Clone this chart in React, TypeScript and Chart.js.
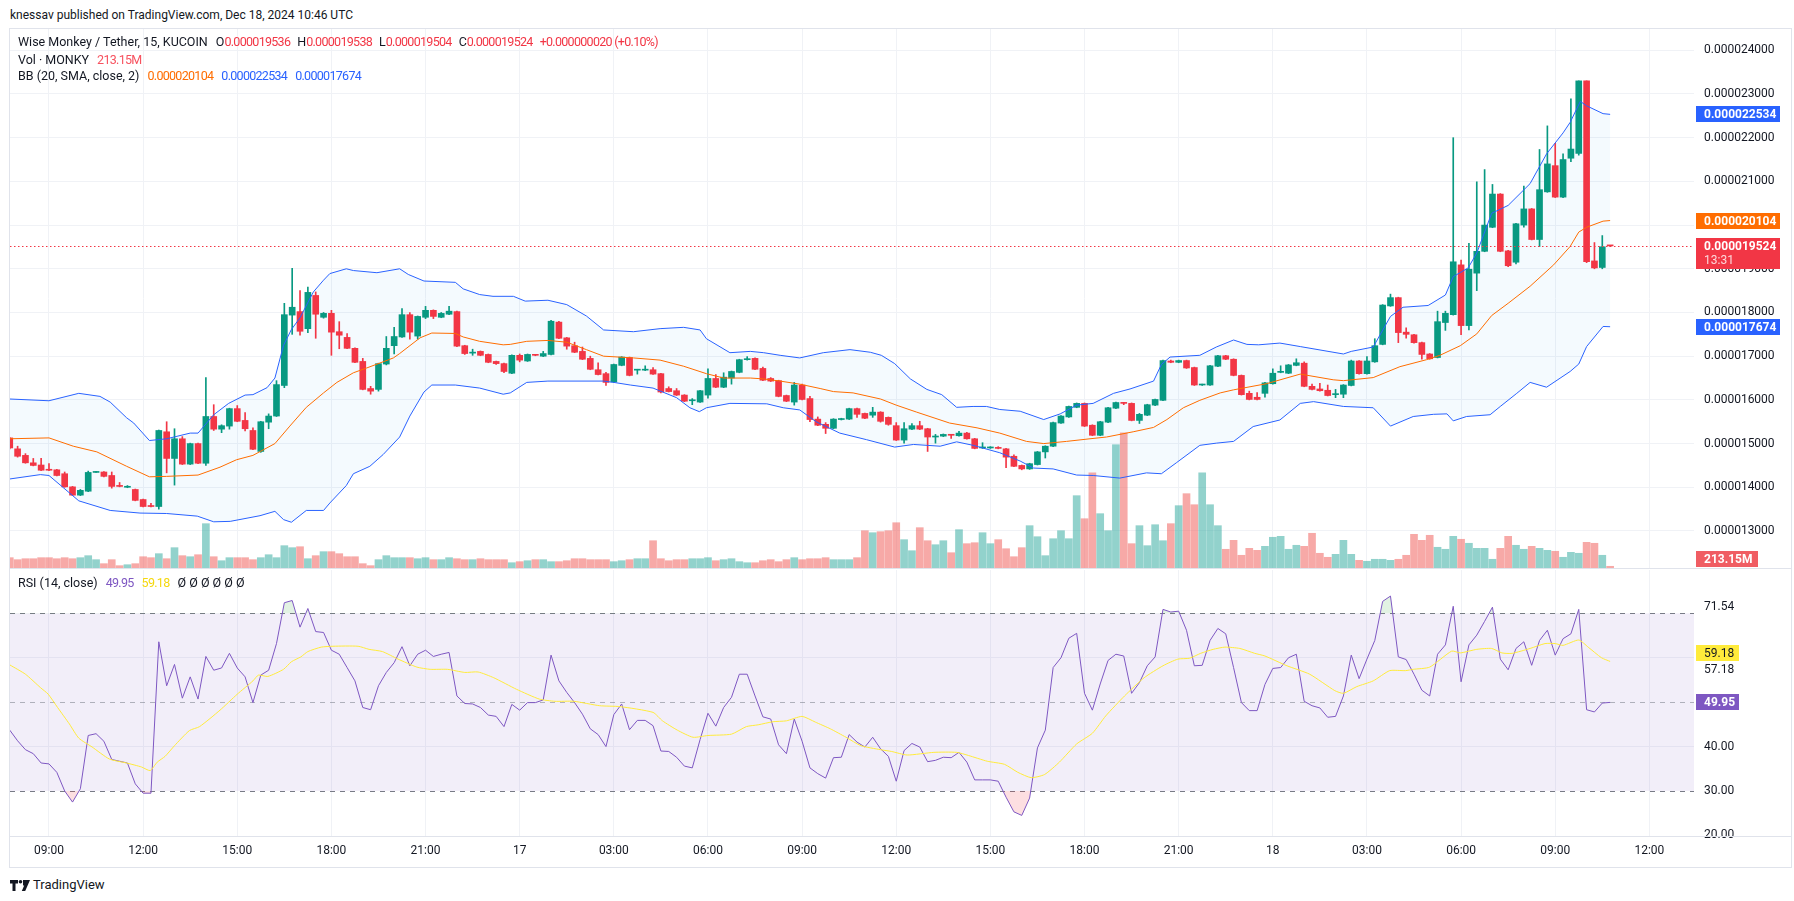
import React, { useEffect, useRef } from "react";
import { Chart, registerables } from "chart.js";

Chart.register(...registerables);

// ---------- DATA (prices in 1e-6 USDT, volume in millions) ----------
// index 0 of every per-candle array = candle at 07:45 UTC Dec 16 (x = FIRST_INDEX)
const FIRST_INDEX = -1;

const opens = [
  15.13, 14.88, 14.73, 14.56, 14.51, 14.40, 14.40, 14.31, 14.01, 13.82, 13.91,
  14.34, 14.35, 14.27, 14.04, 14.00, 13.95, 13.72, 13.57, 13.56, 15.27,
  14.66, 15.11, 14.53, 15.00, 14.55, 15.62, 15.33, 15.40, 15.80, 15.53,
  15.30, 14.82, 15.49, 15.63, 16.33, 17.94, 18.02, 17.63, 18.39, 17.89,
  17.98, 17.56, 17.43, 17.18, 16.88, 16.26, 16.24, 16.82, 17.24, 17.44,
  17.95, 17.46, 17.89, 18.05, 17.89, 17.96, 18.02, 17.24, 17.07, 17.11,
  17.04, 16.88, 16.83, 16.61, 17.02, 16.89, 17.03, 17.00, 17.04, 17.78,
  17.42, 17.24, 17.11, 16.95, 16.69, 16.60, 16.41, 16.79, 16.97, 16.68,
  16.68, 16.69, 16.60, 16.26, 16.21, 16.11, 15.98, 15.95, 16.11, 16.49,
  16.29, 16.50, 16.63, 16.92, 16.95, 16.72, 16.49, 16.44, 16.10, 15.95,
  16.34, 16.03, 15.56, 15.44, 15.35, 15.55, 15.56, 15.80, 15.69, 15.65,
  15.72, 15.60, 15.41, 15.08, 15.33, 15.41, 15.34, 15.15, 15.17, 15.20,
  15.18, 15.24, 15.11, 14.90, 14.90, 14.91, 14.88, 14.71, 14.50, 14.42,
  14.52, 14.81, 14.94, 15.47, 15.61, 15.83, 15.92, 15.42, 15.19, 15.49,
  15.81, 15.93, 15.92, 15.53, 15.65, 15.88, 15.99, 16.89, 16.86, 16.90,
  16.74, 16.34, 16.34, 16.77, 17.01, 16.93, 16.56, 16.15, 16.06, 16.15,
  16.37, 16.63, 16.61, 16.79, 16.84, 16.31, 16.25, 16.22, 16.12, 16.13,
  16.33, 16.89, 16.60, 16.87, 17.27, 18.15, 18.34, 17.55, 17.49, 17.31,
  17.05, 16.97, 17.77, 17.95, 19.09, 17.70, 18.90, 19.40, 19.95, 20.71,
  19.41, 19.15, 20.00, 20.37, 19.67, 20.76, 21.36, 20.64, 21.53, 21.64,
  23.30, 19.18, 19.03, 19.536,
];

const highs = [
  15.14, 14.94, 14.77, 14.66, 14.66, 14.54, 14.41, 14.35, 14.02, 13.95, 14.37,
  14.36, 14.36, 14.35, 14.11, 14.04, 13.96, 13.73, 13.63, 15.31, 15.50,
  15.34, 15.16, 15.01, 15.01, 16.51, 15.89, 15.43, 15.81, 15.87, 15.71,
  15.36, 15.51, 15.68, 16.44, 18.21, 19.01, 18.50, 18.58, 18.47, 18.00,
  18.05, 17.79, 17.52, 17.19, 16.95, 16.31, 16.84, 17.45, 17.66, 18.09,
  18.00, 17.92, 18.14, 18.06, 18.00, 18.14, 18.03, 17.25, 17.16, 17.12,
  17.05, 16.89, 16.84, 17.03, 17.05, 17.05, 17.04, 17.11, 17.82, 17.80,
  17.43, 17.32, 17.21, 17.00, 16.85, 16.63, 16.82, 16.99, 16.98, 16.70,
  16.78, 16.74, 16.61, 16.30, 16.26, 16.12, 16.03, 16.22, 16.71, 16.58,
  16.62, 16.66, 16.93, 16.99, 16.96, 16.75, 16.51, 16.45, 16.11, 16.40,
  16.36, 16.08, 15.61, 15.48, 15.57, 15.58, 15.81, 15.81, 15.70, 15.83,
  15.73, 15.61, 15.48, 15.48, 15.46, 15.51, 15.35, 15.21, 15.22, 15.21,
  15.28, 15.26, 15.12, 15.02, 14.93, 14.93, 14.89, 14.74, 14.51, 14.55,
  14.82, 14.95, 15.49, 15.64, 15.86, 15.93, 15.93, 15.43, 15.51, 15.83,
  15.95, 15.94, 15.93, 15.69, 15.90, 16.02, 16.91, 16.91, 16.91, 16.91,
  16.75, 16.36, 16.79, 17.02, 17.02, 16.94, 16.57, 16.20, 16.17, 16.40,
  16.71, 16.78, 16.81, 16.94, 16.87, 16.36, 16.38, 16.34, 16.24, 16.35,
  16.91, 16.90, 16.99, 17.40, 18.18, 18.42, 18.35, 17.65, 17.50, 17.32,
  17.06, 18.03, 18.03, 22.00, 19.20, 19.58, 20.99, 21.27, 20.93, 20.72,
  19.42, 20.04, 20.89, 20.38, 21.73, 22.27, 21.87, 21.63, 22.89, 23.30,
  23.30, 19.60, 19.76, 19.538,
];

const lows = [
  14.88, 14.69, 14.55, 14.49, 14.38, 14.38, 14.26, 14.00, 13.81, 13.81, 13.90,
  14.34, 14.24, 13.98, 14.01, 13.99, 13.69, 13.55, 13.55, 13.50, 14.33,
  14.05, 14.52, 14.52, 14.54, 14.50, 15.30, 15.25, 15.33, 15.50, 15.29,
  14.86, 14.80, 15.34, 15.62, 16.28, 17.50, 17.48, 17.54, 17.41, 17.87,
  17.02, 17.17, 17.17, 16.85, 16.23, 16.13, 16.20, 16.80, 17.05, 17.43,
  17.39, 17.39, 17.86, 17.86, 17.88, 17.95, 17.22, 17.04, 17.02, 17.01,
  16.85, 16.81, 16.62, 16.60, 16.87, 16.88, 17.01, 16.99, 17.03, 17.40,
  17.16, 17.08, 16.92, 16.69, 16.57, 16.33, 16.40, 16.78, 16.55, 16.59,
  16.67, 16.58, 16.16, 16.18, 16.10, 15.96, 15.89, 15.94, 16.04, 16.28,
  16.28, 16.36, 16.62, 16.91, 16.69, 16.44, 16.42, 16.07, 15.96, 15.88,
  16.00, 15.50, 15.41, 15.23, 15.34, 15.54, 15.55, 15.60, 15.57, 15.60,
  15.49, 15.42, 15.07, 15.01, 15.32, 15.32, 14.82, 15.01, 15.16, 15.12,
  15.17, 15.10, 14.88, 14.89, 14.89, 14.88, 14.45, 14.47, 14.40, 14.41,
  14.51, 14.67, 14.93, 15.46, 15.60, 15.82, 15.39, 15.18, 15.18, 15.48,
  15.80, 15.89, 15.52, 15.46, 15.64, 15.87, 15.98, 16.85, 16.85, 16.72,
  16.33, 16.33, 16.33, 16.76, 16.92, 16.55, 16.11, 16.00, 16.00, 16.06,
  16.36, 16.62, 16.60, 16.78, 16.30, 16.23, 16.20, 16.09, 16.05, 16.05,
  16.32, 16.59, 16.59, 16.86, 17.26, 18.14, 17.31, 17.41, 17.30, 16.93,
  16.93, 16.96, 17.59, 17.94, 17.49, 17.60, 18.50, 19.39, 19.94, 19.39,
  19.05, 19.11, 19.95, 19.66, 19.51, 20.75, 20.63, 20.63, 21.45, 21.60,
  19.14, 19.00, 19.00, 19.504,
];

const closes = [
  14.90, 14.71, 14.56, 14.50, 14.39, 14.39, 14.27, 14.01, 13.82, 13.93, 14.34,
  14.35, 14.25, 14.02, 14.02, 14.02, 13.70, 13.56, 13.56, 15.30, 14.66,
  15.11, 14.53, 15.00, 14.55, 15.62, 15.33, 15.41, 15.80, 15.51, 15.34,
  14.87, 15.50, 15.63, 16.35, 17.95, 18.12, 17.57, 18.46, 17.96, 17.98,
  17.55, 17.48, 17.18, 16.86, 16.24, 16.20, 16.83, 17.18, 17.45, 17.95,
  17.55, 17.91, 18.05, 17.91, 17.98, 18.03, 17.23, 17.06, 17.08, 17.02,
  16.86, 16.83, 16.65, 17.02, 16.91, 17.04, 17.02, 17.06, 17.80, 17.41,
  17.23, 17.09, 16.93, 16.70, 16.58, 16.40, 16.81, 16.98, 16.56, 16.69,
  16.69, 16.59, 16.18, 16.19, 16.11, 15.97, 15.99, 16.21, 16.49, 16.29,
  16.52, 16.65, 16.92, 16.93, 16.70, 16.45, 16.43, 16.08, 15.97, 16.34,
  16.01, 15.55, 15.42, 15.35, 15.56, 15.56, 15.80, 15.67, 15.58, 15.72,
  15.51, 15.44, 15.08, 15.34, 15.41, 15.33, 15.15, 15.16, 15.21, 15.19,
  15.24, 15.11, 14.89, 14.91, 14.91, 14.89, 14.69, 14.48, 14.42, 14.54,
  14.81, 14.94, 15.48, 15.63, 15.85, 15.92, 15.40, 15.19, 15.50, 15.82,
  15.94, 15.92, 15.53, 15.67, 15.89, 16.01, 16.90, 16.86, 16.90, 16.73,
  16.34, 16.35, 16.78, 17.01, 16.93, 16.56, 16.12, 16.01, 16.01, 16.39,
  16.61, 16.64, 16.80, 16.85, 16.31, 16.24, 16.21, 16.10, 16.13, 16.34,
  16.89, 16.60, 16.89, 17.24, 18.17, 18.34, 17.54, 17.50, 17.31, 17.04,
  16.94, 17.79, 17.98, 19.16, 17.70, 18.99, 19.40, 20.00, 20.71, 19.40,
  19.07, 20.03, 20.37, 19.67, 20.81, 21.40, 20.64, 21.50, 21.74, 23.30,
  19.16, 19.02, 19.504, 19.524,
];

const volumes = [
  1290, 1040, 1160, 1160, 1290, 1290, 1160, 1290, 1160, 1290, 1540,
  1040, 540, 1040, 290, 410, 540, 1410, 1290, 1790, 1160,
  2540, 1540, 1410, 1660, 5540, 1410, 910, 1290, 1290, 1290,
  1040, 1290, 1660, 1290, 2790, 2540, 2660, 1160, 1540, 2040,
  2040, 1790, 1410, 1410, 540, 290, 1040, 1540, 1290, 1290,
  1290, 1160, 1290, 1040, 1040, 1290, 1160, 1040, 1040, 1160,
  1040, 1040, 1040, 660, 790, 910, 1040, 1040, 790, 790,
  910, 1160, 1160, 1040, 1040, 1040, 790, 910, 1040, 1160,
  1160, 3410, 1160, 910, 1040, 1040, 1160, 1160, 1290, 910,
  1040, 1160, 790, 660, 660, 910, 1040, 790, 1040, 1290,
  1040, 1160, 1160, 1290, 1040, 1040, 1040, 1290, 4660, 4410,
  4540, 4660, 5660, 3540, 2160, 5040, 3410, 2910, 3410, 1910,
  4790, 3040, 3160, 4410, 3040, 3540, 2410, 1410, 2540, 5290,
  3910, 1540, 3660, 4660, 3660, 9040, 6160, 11910, 6790, 4660,
  15410, 16910, 3040, 5290, 2790, 5410, 3410, 5540, 7790, 9290,
  7910, 11910, 7910, 5290, 2340, 3460, 1590, 2460, 2210, 2710,
  3840, 3960, 2340, 2840, 2710, 4340, 1840, 1340, 1710, 3460,
  1710, 960, 840, 1090, 1090, 960, 1090, 1590, 4210, 3460,
  4090, 2590, 2340, 3960, 3590, 3090, 2460, 2460, 1090, 2460,
  3960, 2840, 2340, 2710, 2460, 2210, 2090, 1340, 1960, 1840,
  3210, 3090, 1590, 213.15,
];

const rsi = [
  43.7, 41.3, 39.3, 38.4, 36.3, 36.1, 34.2, 30.0, 27.5, 30.5, 42.5,
  42.9, 41.2, 37.1, 36.7, 36.3, 31.6, 29.5, 29.5, 63.6, 53.7,
  58.5, 50.9, 55.7, 50.7, 60.3, 57.2, 57.7, 61.0, 57.7, 55.7,
  49.9, 56.1, 57.2, 63.2, 72.4, 72.9, 66.9, 71.1, 65.9, 65.7,
  61.7, 60.8, 57.8, 54.8, 48.8, 48.3, 53.7, 56.7, 58.9, 62.5,
  58.2, 60.8, 61.7, 60.3, 60.8, 61.2, 51.4, 49.7, 49.6, 48.8,
  47.1, 46.8, 44.5, 49.5, 48.2, 49.9, 49.9, 50.5, 60.6, 54.8,
  52.2, 49.9, 47.3, 44.0, 42.7, 40.0, 47.2, 49.6, 43.8, 45.9,
  45.9, 44.7, 39.0, 38.9, 37.6, 35.6, 35.2, 41.6, 47.5, 44.6,
  48.8, 51.1, 56.3, 56.3, 51.4, 46.7, 46.2, 40.4, 38.4, 46.2,
  41.2, 35.2, 33.9, 32.9, 37.5, 37.6, 42.7, 41.0, 39.9, 42.1,
  39.5, 37.8, 32.2, 39.1, 40.7, 39.9, 36.6, 36.9, 37.6, 37.5,
  38.7, 36.5, 32.5, 32.5, 32.5, 32.2, 28.6, 25.3, 24.5, 28.4,
  39.7, 43.7, 57.8, 60.0, 64.4, 65.5, 52.0, 48.2, 54.1, 59.4,
  60.8, 60.4, 52.0, 54.4, 58.2, 60.2, 70.9, 70.3, 70.5, 66.2,
  58.2, 58.3, 63.9, 66.6, 65.4, 57.8, 49.9, 48.1, 48.1, 54.0,
  57.6, 57.8, 60.0, 60.8, 50.2, 49.2, 48.7, 46.6, 46.8, 51.4,
  60.6, 55.3, 59.7, 63.9, 72.7, 73.9, 60.2, 59.6, 56.3, 52.7,
  51.4, 60.8, 62.9, 71.6, 54.6, 62.9, 65.1, 68.2, 71.4, 59.7,
  57.3, 62.1, 63.6, 58.3, 63.9, 66.2, 60.6, 64.3, 65.4, 70.9,
  48.3, 47.8, 49.8, 49.95,
];

// Bollinger Bands (20, SMA, close, 2) sampled as [candle index, value]
const bbUpper: [number, number][] = [
  [-1, 16.02], [4, 15.98], [7.8, 16.15], [10.5, 16.08], [11.8, 15.95], [13.9, 15.59], [14.8, 15.47],
  [16.8, 15.07], [19, 15.11], [22, 15.24], [23, 15.24], [25, 15.66], [26.9, 15.92], [29, 16.11],
  [30, 16.12], [31.8, 16.28], [32.8, 16.5], [33.9, 17.25], [34.9, 17.61], [36, 17.88], [37.7, 18.47],
  [39, 18.74], [39.8, 18.89], [41.9, 19.0], [42.8, 18.96], [45.8, 18.91], [48.7, 19.0], [49.8, 18.87],
  [51.8, 18.72], [55.8, 18.69], [56.8, 18.54], [58.9, 18.41], [60.6, 18.37], [63.2, 18.37], [64.7, 18.26],
  [67.6, 18.28], [70, 18.18], [72.5, 17.92], [74.7, 17.6], [78.5, 17.56], [81.9, 17.63], [84.9, 17.66],
  [87, 17.6], [87.8, 17.4], [90.8, 17.08], [93.4, 17.11], [95.1, 17.08], [97.2, 17.02], [99.7, 16.96],
  [102.7, 17.08], [106.1, 17.15], [108.7, 17.09], [110.1, 17.02], [111.8, 16.83], [113.8, 16.48],
  [115.9, 16.24], [117.8, 16.12], [119.7, 15.83], [121.8, 15.85], [123.5, 15.85], [125.2, 15.78],
  [127.8, 15.74], [130.8, 15.55], [132.9, 15.68], [135, 15.88], [137.1, 15.92], [139.7, 16.15],
  [141.8, 16.25], [144.8, 16.43], [145.8, 16.81], [146.9, 16.98], [150.7, 17.02], [152.8, 17.21],
  [155, 17.37], [156.7, 17.27], [158.2, 17.26], [160.9, 17.3], [163.5, 17.22], [169, 17.05],
  [170, 17.11], [172.8, 17.21], [175, 17.91], [176.6, 18.12], [179.8, 18.16], [182, 18.4],
  [183, 18.82], [184.9, 19.02], [186, 19.36], [187.9, 20.27], [190, 20.45], [192.8, 20.95],
  [194.9, 21.63], [197, 22.11], [197.9, 22.35], [199.2, 22.83], [200, 22.73], [202.1, 22.55], [203, 22.534],
];

const bbBasis: [number, number][] = [
  [-1, 15.11], [4, 15.13], [7.1, 14.94], [10.1, 14.81], [13.9, 14.48], [16.8, 14.24], [19, 14.25],
  [23, 14.28], [25.8, 14.46], [27.9, 14.63], [30, 14.73], [32.8, 15.0], [34.7, 15.4], [36.8, 15.83],
  [39, 16.16], [40.7, 16.4], [42.8, 16.62], [44.5, 16.73], [47.9, 16.96], [48.7, 17.06], [51.3, 17.42],
  [52.8, 17.53], [55.8, 17.52], [56.8, 17.44], [58.9, 17.34], [61.9, 17.26], [62.8, 17.27],
  [64.9, 17.34], [67.6, 17.36], [70, 17.32], [72.5, 17.15], [74.7, 17.0], [78.5, 16.96], [81.9, 16.91],
  [84.9, 16.77], [87.8, 16.6], [90, 16.5], [93.4, 16.5], [95.1, 16.48], [97.2, 16.43], [99.7, 16.36],
  [102.3, 16.26], [104, 16.19], [106.5, 16.16], [110, 16.02], [112, 15.88], [114.6, 15.72],
  [118.8, 15.47], [122.3, 15.36], [125.2, 15.24], [128.6, 15.05], [130.8, 15.0], [133.7, 15.05],
  [136.7, 15.11], [138.8, 15.15], [142.2, 15.27], [144.8, 15.37], [146.5, 15.55], [148.6, 15.82],
  [150.7, 15.99], [153.3, 16.16], [155, 16.23], [159.2, 16.37], [163.5, 16.59], [167.7, 16.46],
  [169, 16.44], [172.8, 16.51], [176.2, 16.76], [179.6, 16.92], [181.3, 17.02], [183.9, 17.24],
  [186, 17.51], [187.9, 17.93], [190, 18.21], [192.8, 18.6], [195.8, 19.09], [197.9, 19.51],
  [199, 19.84], [200, 19.95], [202.1, 20.09], [203, 20.104],
];

const bbLower: [number, number][] = [
  [-1, 14.19], [2.9, 14.29], [4, 14.27], [7.8, 13.69], [11.8, 13.47], [15.6, 13.41], [19, 13.4],
  [22.9, 13.34], [25, 13.21], [27.1, 13.22], [30.9, 13.35], [32.8, 13.45], [33.9, 13.26], [34.9, 13.2],
  [36.8, 13.47], [39, 13.47], [39.8, 13.64], [41.9, 14.04], [42.8, 14.31], [44.9, 14.48], [46.6, 14.75],
  [48.7, 15.15], [50, 15.63], [51.8, 16.18], [52.8, 16.34], [55.8, 16.34], [58.9, 16.27], [61.9, 16.13],
  [62.8, 16.16], [64.9, 16.4], [67.6, 16.43], [74.7, 16.43], [76, 16.4], [78.1, 16.34], [81, 16.27],
  [84, 16.05], [85.7, 15.82], [86.9, 15.73], [87.8, 15.82], [90.8, 15.92], [95.5, 15.91], [97.6, 15.82],
  [99.7, 15.77], [101.4, 15.55], [101.9, 15.49], [104.8, 15.24], [108.2, 15.09], [111.8, 14.92],
  [114.2, 14.98], [117.6, 14.94], [119.7, 15.04], [121.8, 14.96], [125.2, 14.79], [127.8, 14.6],
  [129.5, 14.44], [132, 14.42], [135, 14.28], [137.1, 14.27], [140.5, 14.21], [143.9, 14.33],
  [145.8, 14.31], [147.7, 14.56], [150.7, 14.96], [152.8, 15.01], [155, 15.05], [157.5, 15.39],
  [160.9, 15.54], [163.5, 15.92], [165.2, 15.96], [169, 15.85], [172.8, 15.82], [175, 15.4],
  [177.9, 15.62], [180.5, 15.67], [182.2, 15.68], [183, 15.52], [184.7, 15.62], [187.7, 15.66],
  [189, 15.85], [191.1, 16.15], [192.8, 16.4], [194.9, 16.29], [197.9, 16.65], [199, 16.82],
  [200, 17.22], [202.1, 17.68], [203, 17.674],
];

// RSI-based moving average sampled as [candle index, value]
const rsiMa: [number, number][] = [
  [-1, 58.4], [1, 56.3], [2.9, 53.3], [3.9, 51.8], [5.1, 48.8], [6.6, 45.1], [7.8, 41.9], [9.5, 39.9],
  [11.7, 37.2], [13.9, 36.3], [15.8, 35.4], [16.9, 34.6], [17.8, 36.5], [18.8, 37.8], [20, 40.2],
  [21.9, 43.6], [23.2, 44.5], [25.8, 48.2], [28, 51.8], [30, 54.8], [30.7, 56.1], [31.9, 55.8],
  [33.9, 57.4], [34.9, 59.1], [36.1, 60.2], [37, 61.4], [38.7, 62.4], [40.2, 62.6], [43.4, 62.6],
  [44.8, 61.9], [46.5, 61.4], [48.5, 59.7], [50.9, 57.9], [52.6, 57.4], [54.8, 57.4], [57, 56.7],
  [58.7, 56.8], [60.7, 55.5], [63.6, 52.9], [66.5, 50.7], [68.5, 50.2], [70.9, 50.2], [74.2, 49.2],
  [76.8, 49.0], [81, 47.7], [82.2, 45.8], [84.1, 43.7], [86.1, 42.1], [88, 42.5], [91, 42.8],
  [92.9, 44.5], [94.4, 44.9], [96.3, 45.6], [98, 45.8], [100, 46.8], [101.7, 45.5], [103.6, 44.0],
  [105.6, 42.1], [107.5, 40.2], [110, 39.3], [111.4, 38.9], [113.4, 38.1], [116.8, 38.7], [119.7, 38.7],
  [121.2, 38.0], [123.6, 36.7], [125.8, 36.0], [127.5, 34.2], [129.2, 33.0], [130.9, 33.7], [132.8, 36.5],
  [135, 40.6], [137, 43.0], [138.7, 46.9], [141.1, 51.4], [143.6, 55.5], [146, 58.2], [147.9, 59.7],
  [149.4, 59.9], [150.8, 61.0], [152.4, 61.9], [153.9, 62.4], [155.8, 62.1], [157.7, 61.0], [159, 60.4],
  [161.8, 58.2], [164.7, 56.3], [167.9, 52.6], [169, 52.0], [170.7, 53.5], [172.8, 54.8], [174.9, 57.1],
  [176.9, 57.1], [177.9, 57.4], [180, 57.9], [182.8, 61.5], [183.9, 61.1], [186, 61.9], [187.9, 62.1],
  [189.2, 61.1], [190.5, 61.0], [192.8, 62.1], [194.7, 63.2], [196, 63.2], [197, 62.8], [199, 64.0],
  [200.2, 62.4], [201.9, 60.0], [203, 59.18],
];

const timeTickIndex = [4, 16, 28, 40, 52, 64, 76, 88, 100, 112, 124, 136, 148, 160, 172, 184, 196, 208];
const timeTickLabels = [
  "09:00", "12:00", "15:00", "18:00", "21:00", "17", "03:00", "06:00", "09:00",
  "12:00", "15:00", "18:00", "21:00", "18", "03:00", "06:00", "09:00", "12:00",
];
const priceTicks = [13, 14, 15, 16, 17, 18, 19, 20, 21, 22, 23, 24];
const rsiTicks = [20, 30, 40, 57.18, 60, 70, 71.54];
const rsiTickLabels = ["20.00", "30.00", "40.00", "57.18", "", "", "71.54"];
const rsiGridLevels = [40, 60];

const lastPrice = 19.524;
const countdown = "13:31";
const lastVolumeLabel = "213.15M";
const lastRsi = 49.95;
const lastRsiMa = 59.18;

// ---------- STYLE ----------
const FONT = "Roboto, 'Noto Sans', sans-serif";
const TEXT = "#131722";
const GRID = "#f0f2f6";
const UP = "#089981";
const DOWN = "#F23645";
const VOL_UP = "rgba(38,166,154,0.5)";
const VOL_DOWN = "rgba(239,83,80,0.5)";
const BLUE = "#2962FF";
const ORANGE = "#FF6D00";
const PURPLE = "#7E57C2";
const YELLOW = "#FFEB3B";

const X_MIN = -0.969;
const X_MAX = 213.69;
const PRICE_MIN = 12.153;
const PRICE_MAX = 24.487;
const VOL_MAX = 67375;
const RSI_MIN = 19.86;
const RSI_MAX = 79.77;

Chart.defaults.font.family = FONT;
Chart.defaults.font.size = 12;
Chart.defaults.color = TEXT;

const fmtPrice = (v: number) => (v / 1e6).toFixed(9);
const xOf = (k: number) => FIRST_INDEX + k;
const isUp = (k: number) => closes[k] >= opens[k];
const pts = (arr: [number, number][]) => arr.map(([x, y]) => ({ x, y }));

const zeroPad = (s: any) => {
  s.paddingTop = 0;
  s.paddingBottom = 0;
  s.paddingLeft = 0;
  s.paddingRight = 0;
};

const sharedX = (showLabels: boolean) => ({
  type: "linear",
  min: X_MIN,
  max: X_MAX,
  offset: false,
  afterBuildTicks: (s: any) => {
    s.ticks = timeTickIndex.map((v) => ({ value: v }));
  },
  afterFit: (s: any) => {
    s.height = showLabels ? 32 : 0;
    zeroPad(s);
  },
  grid: { color: GRID, drawTicks: false, offset: false },
  border: { display: false },
  ticks: {
    display: showLabels,
    autoSkip: false,
    maxRotation: 0,
    minRotation: 0,
    padding: 8,
    color: TEXT,
    font: { size: 12, family: FONT },
    callback: (_v: any, i: number) => timeTickLabels[i],
  },
});

const pricePanePlugin = {
  id: "pricePane",
  beforeDatasetsDraw(chart: any) {
    const { ctx, chartArea } = chart;
    const up = chart.getDatasetMeta(1).data;
    const lo = chart.getDatasetMeta(3).data;
    ctx.save();
    ctx.beginPath();
    ctx.rect(chartArea.left, chartArea.top, chartArea.right - chartArea.left, chartArea.bottom - chartArea.top);
    ctx.clip();
    ctx.beginPath();
    up.forEach((p: any, k: number) => (k ? ctx.lineTo(p.x, p.y) : ctx.moveTo(p.x, p.y)));
    for (let k = lo.length - 1; k >= 0; k--) ctx.lineTo(lo[k].x, lo[k].y);
    ctx.closePath();
    ctx.fillStyle = "rgba(33,150,243,0.05)";
    ctx.fill();
    ctx.restore();
  },
  afterDatasetsDraw(chart: any) {
    const { ctx, chartArea } = chart;
    const y = Math.round(chart.scales.y.getPixelForValue(lastPrice)) + 0.5;
    ctx.save();
    ctx.strokeStyle = DOWN;
    ctx.lineWidth = 1;
    ctx.setLineDash([1.5, 2.5]);
    ctx.beginPath();
    ctx.moveTo(chartArea.left, y);
    ctx.lineTo(chartArea.right, y);
    ctx.stroke();
    ctx.restore();
  },
  afterDraw(chart: any) {
    const { ctx, chartArea } = chart;
    const ys = chart.scales.y;
    const x0 = chartArea.right + 2;
    const tx = chartArea.right + 10;
    ctx.save();
    ctx.textAlign = "left";
    ctx.textBaseline = "middle";
    const label = (value: number, bg: string) => {
      const y = Math.round(ys.getPixelForValue(value));
      ctx.fillStyle = bg;
      ctx.fillRect(x0, y - 8, 84, 16);
      ctx.fillStyle = "#ffffff";
      ctx.font = `bold 12px ${FONT}`;
      ctx.fillText(fmtPrice(value), tx, y + 0.5);
    };
    label(bbUpper[bbUpper.length - 1][1], BLUE);
    label(bbBasis[bbBasis.length - 1][1], ORANGE);
    label(bbLower[bbLower.length - 1][1], BLUE);
    // current price with countdown
    const yp = Math.round(ys.getPixelForValue(lastPrice));
    ctx.fillStyle = DOWN;
    ctx.fillRect(x0, yp - 8, 84, 31);
    ctx.fillStyle = "#ffffff";
    ctx.font = `bold 12px ${FONT}`;
    ctx.fillText(fmtPrice(lastPrice), tx, yp + 0.5);
    ctx.fillStyle = "rgba(255,255,255,0.8)";
    ctx.font = `12px ${FONT}`;
    ctx.fillText(countdown, tx, yp + 15);
    // volume label
    const yv = chartArea.bottom - 9;
    ctx.fillStyle = "#F05D63";
    ctx.fillRect(x0, yv - 8, 62, 16);
    ctx.fillStyle = "#ffffff";
    ctx.font = `bold 12px ${FONT}`;
    ctx.fillText(lastVolumeLabel, tx, yv + 0.5);
    ctx.restore();
  },
};

const rsiPanePlugin = {
  id: "rsiPane",
  beforeDatasetsDraw(chart: any) {
    const { ctx, chartArea } = chart;
    const ys = chart.scales.y;
    const y70 = ys.getPixelForValue(70);
    const y30 = ys.getPixelForValue(30);
    const y50 = ys.getPixelForValue(50);
    ctx.save();
    ctx.fillStyle = "rgba(126,87,194,0.1)";
    ctx.fillRect(chartArea.left, y70, chartArea.right - chartArea.left, y30 - y70);
    ctx.lineWidth = 1;
    ctx.setLineDash([5, 5]);
    const hline = (y: number, color: string) => {
      ctx.strokeStyle = color;
      ctx.beginPath();
      ctx.moveTo(chartArea.left, Math.round(y) + 0.5);
      ctx.lineTo(chartArea.right, Math.round(y) + 0.5);
      ctx.stroke();
    };
    hline(y70, "#787B86");
    hline(y30, "#787B86");
    hline(y50, "rgba(120,123,134,0.55)");
    ctx.restore();
  },
  afterDraw(chart: any) {
    const { ctx, chartArea } = chart;
    const ys = chart.scales.y;
    const x0 = chartArea.right + 2;
    const tx = chartArea.right + 10;
    ctx.save();
    ctx.textAlign = "left";
    ctx.textBaseline = "middle";
    const ym = Math.round(ys.getPixelForValue(lastRsiMa)) - 8;
    ctx.fillStyle = YELLOW;
    ctx.fillRect(x0, ym - 8, 43, 16);
    ctx.fillStyle = TEXT;
    ctx.font = `12px ${FONT}`;
    ctx.fillText(lastRsiMa.toFixed(2), tx, ym + 0.5);
    const yr = Math.round(ys.getPixelForValue(lastRsi));
    ctx.fillStyle = PURPLE;
    ctx.fillRect(x0, yr - 8, 43, 16);
    ctx.fillStyle = "#ffffff";
    ctx.font = `bold 12px ${FONT}`;
    ctx.fillText(lastRsi.toFixed(2), tx, yr + 0.5);
    ctx.restore();
  },
};

function priceConfig(): any {
  const candleColors = opens.map((_o, k) => (isUp(k) ? UP : DOWN));
  const volColors = opens.map((_o, k) => (isUp(k) ? VOL_UP : VOL_DOWN));
  return {
    type: "bar",
    data: {
      datasets: [
        {
          type: "bar",
          label: "Volume",
          data: volumes.map((v, k) => ({ x: xOf(k), y: v })),
          backgroundColor: volColors,
          barThickness: 7,
          grouped: false,
          yAxisID: "yv",
          order: 4,
        },
        {
          type: "line",
          label: "BB upper",
          data: pts(bbUpper),
          borderColor: BLUE,
          borderWidth: 1,
          pointRadius: 0,
          tension: 0,
          yAxisID: "y",
          order: 0,
        },
        {
          type: "line",
          label: "BB basis",
          data: pts(bbBasis),
          borderColor: ORANGE,
          borderWidth: 1,
          pointRadius: 0,
          tension: 0,
          yAxisID: "y",
          order: 0,
        },
        {
          type: "line",
          label: "BB lower",
          data: pts(bbLower),
          borderColor: BLUE,
          borderWidth: 1,
          pointRadius: 0,
          tension: 0,
          yAxisID: "y",
          order: 0,
        },
        {
          type: "bar",
          label: "Wicks",
          data: lows.map((l, k) => ({ x: xOf(k), y: [l, highs[k]] })),
          backgroundColor: candleColors,
          barThickness: 1,
          grouped: false,
          minBarLength: 1,
          yAxisID: "y",
          order: 2,
        },
        {
          type: "bar",
          label: "Bodies",
          data: opens.map((o, k) => ({ x: xOf(k), y: [o, closes[k]] })),
          backgroundColor: candleColors,
          barThickness: 6,
          grouped: false,
          minBarLength: 1,
          yAxisID: "y",
          order: 1,
        },
      ],
    },
    options: {
      responsive: false,
      maintainAspectRatio: false,
      animation: false,
      devicePixelRatio: 1,
      layout: { padding: 0 },
      events: [],
      plugins: { legend: { display: false }, tooltip: { enabled: false } },
      scales: {
        x: sharedX(false),
        y: {
          type: "linear",
          position: "right",
          min: PRICE_MIN,
          max: PRICE_MAX,
          afterBuildTicks: (s: any) => {
            s.ticks = priceTicks.map((v) => ({ value: v }));
          },
          afterFit: (s: any) => {
            s.width = 98;
            zeroPad(s);
          },
          grid: { color: GRID, drawTicks: false },
          border: { display: false },
          ticks: {
            padding: 10,
            autoSkip: false,
            color: TEXT,
            font: { size: 12, family: FONT },
            callback: (v: number) => fmtPrice(v),
          },
        },
        yv: {
          type: "linear",
          display: false,
          min: 0,
          max: VOL_MAX,
        },
      },
    },
    plugins: [pricePanePlugin],
  };
}

function rsiConfig(): any {
  const rsiPts = rsi.map((v, k) => ({ x: xOf(k), y: v }));
  return {
    type: "line",
    data: {
      datasets: [
        {
          label: "RSI",
          data: rsiPts,
          borderColor: PURPLE,
          borderWidth: 1,
          pointRadius: 0,
          tension: 0,
          fill: { target: { value: 70 }, above: "rgba(76,175,80,0.16)", below: "rgba(0,0,0,0)" },
          order: 1,
        },
        {
          label: "RSI oversold",
          data: rsiPts,
          borderColor: "rgba(0,0,0,0)",
          borderWidth: 0,
          pointRadius: 0,
          tension: 0,
          fill: { target: { value: 30 }, above: "rgba(0,0,0,0)", below: "rgba(242,54,69,0.16)" },
          order: 2,
        },
        {
          label: "RSI-based MA",
          data: pts(rsiMa),
          borderColor: YELLOW,
          borderWidth: 1,
          pointRadius: 0,
          tension: 0.2,
          fill: false,
          order: 0,
        },
      ],
    },
    options: {
      responsive: false,
      maintainAspectRatio: false,
      animation: false,
      devicePixelRatio: 1,
      layout: { padding: 0 },
      events: [],
      plugins: { legend: { display: false }, tooltip: { enabled: false } },
      scales: {
        x: sharedX(true),
        y: {
          type: "linear",
          position: "right",
          min: RSI_MIN,
          max: RSI_MAX,
          afterBuildTicks: (s: any) => {
            s.ticks = rsiTicks.map((v) => ({ value: v }));
          },
          afterFit: (s: any) => {
            s.width = 98;
            zeroPad(s);
          },
          grid: {
            drawTicks: false,
            color: (c: any) => (c.tick && rsiGridLevels.includes(c.tick.value) ? GRID : "rgba(0,0,0,0)"),
          },
          border: { display: false },
          ticks: {
            padding: 10,
            autoSkip: false,
            color: TEXT,
            font: { size: 12, family: FONT },
            callback: (_v: number, i: number) => rsiTickLabels[i],
          },
        },
      },
    },
    plugins: [rsiPanePlugin],
  };
}

const legendRow: React.CSSProperties = {
  position: "absolute",
  left: 18,
  fontSize: 12.5,
  lineHeight: "16px",
  whiteSpace: "nowrap",
  color: TEXT,
};
const num: React.CSSProperties = { letterSpacing: "-0.7px" };

export default function App() {
  const priceRef = useRef<HTMLCanvasElement>(null);
  const rsiRef = useRef<HTMLCanvasElement>(null);

  useEffect(() => {
    const c1 = new Chart(priceRef.current as HTMLCanvasElement, priceConfig());
    const c2 = new Chart(rsiRef.current as HTMLCanvasElement, rsiConfig());
    return () => {
      c1.destroy();
      c2.destroy();
    };
  }, []);

  return (
    <div
      style={{
        position: "absolute",
        left: 0,
        top: 0,
        width: 1794,
        height: 901,
        background: "#ffffff",
        overflow: "hidden",
        fontFamily: FONT,
        color: TEXT,
      }}
    >
      <div style={{ position: "absolute", left: 10, top: 7, fontSize: 12, lineHeight: "16px", whiteSpace: "nowrap" }}>
        knessav published on TradingView.com, Dec 18, 2024 10:46 UTC
      </div>

      <div
        style={{
          position: "absolute",
          left: 9,
          top: 28,
          width: 1783,
          height: 840,
          border: "1px solid #e0e3eb",
          boxSizing: "border-box",
        }}
      />

      <canvas
        ref={priceRef}
        width={1782}
        height={539}
        style={{ position: "absolute", left: 10, top: 29, width: 1782, height: 539 }}
      />
      <div style={{ position: "absolute", left: 10, top: 568, width: 1782, height: 1, background: "#e0e3eb" }} />
      <canvas
        ref={rsiRef}
        width={1782}
        height={298}
        style={{ position: "absolute", left: 10, top: 570, width: 1782, height: 298 }}
      />
      <div style={{ position: "absolute", left: 10, top: 836, width: 1782, height: 1, background: "#e0e3eb" }} />

      <div style={{ ...legendRow, top: 34 }}>
        Wise Monkey / Tether, 15, KUCOIN
        <span style={{ marginLeft: 8 }}>O</span>
        <span style={{ ...num, color: DOWN }}>0.000019536</span>
        <span style={{ marginLeft: 7 }}>H</span>
        <span style={{ ...num, color: DOWN }}>0.000019538</span>
        <span style={{ marginLeft: 7 }}>L</span>
        <span style={{ ...num, color: DOWN }}>0.000019504</span>
        <span style={{ marginLeft: 7 }}>C</span>
        <span style={{ ...num, color: DOWN }}>0.000019524</span>
        <span style={{ ...num, marginLeft: 7, color: DOWN }}>+0.000000020 (+0.10%)</span>
      </div>
      <div style={{ ...legendRow, top: 52 }}>
        Vol · MONKY
        <span style={{ ...num, marginLeft: 8, color: "#F7525F" }}>213.15M</span>
      </div>
      <div style={{ ...legendRow, top: 68 }}>
        BB (20, SMA, close, 2)
        <span style={{ ...num, marginLeft: 8, color: ORANGE }}>0.000020104</span>
        <span style={{ ...num, marginLeft: 8, color: BLUE }}>0.000022534</span>
        <span style={{ ...num, marginLeft: 8, color: BLUE }}>0.000017674</span>
      </div>

      <div style={{ ...legendRow, top: 575 }}>
        RSI (14, close)
        <span style={{ ...num, marginLeft: 8, color: PURPLE }}>49.95</span>
        <span style={{ ...num, marginLeft: 8, color: "#F5D80F" }}>59.18</span>
        <span style={{ marginLeft: 8 }}>Ø Ø Ø Ø Ø Ø</span>
      </div>

      <div style={{ position: "absolute", left: 10, top: 877, height: 16, display: "flex", alignItems: "center" }}>
        <svg width="20" height="11" viewBox="0 0 20 11">
          <path d="M0 0h8v3.5H5.5V11H2.5V3.5H0z" fill="#131722" />
          <circle cx="10.5" cy="1.8" r="1.8" fill="#131722" />
          <path d="M13 0h7l-4.8 11h-3.4l2.4-5.5H13z" fill="#131722" />
        </svg>
        <span style={{ marginLeft: 3, fontSize: 13, lineHeight: "16px" }}>TradingView</span>
      </div>
    </div>
  );
}
